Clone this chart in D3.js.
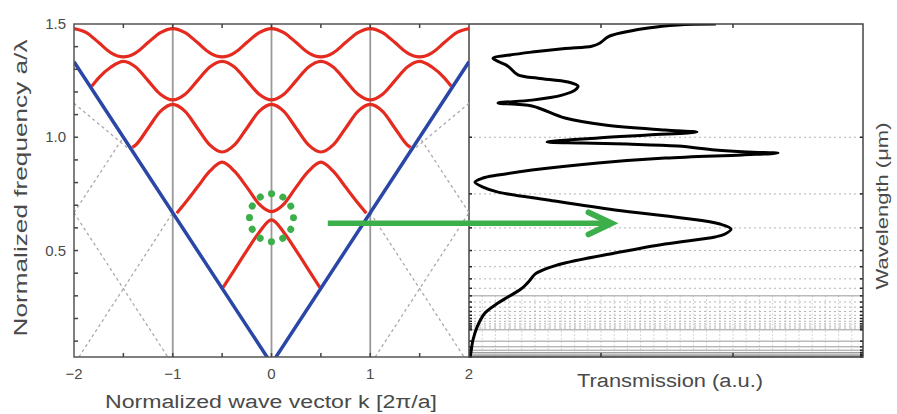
<!DOCTYPE html>
<html>
<head>
<meta charset="utf-8">
<script src="https://cdn.jsdelivr.net/npm/d3@7"></script>
<style>
  body { margin: 0; background: #fff; }
  text { font-family: "Liberation Sans", Arial, sans-serif; fill: #4a4a4a; }
</style>
</head>
<body>
<svg id="chart" width="897" height="414"></svg>
<script>
// band diagram: [k, a/lambda]
const band1 = [[-2,1.48],[-1.875,1.462],[-1.75,1.418],[-1.625,1.373],[-1.5,1.355],[-1.375,1.373],[-1.25,1.418],[-1.125,1.462],
  [-1,1.48],[-0.875,1.462],[-0.75,1.418],[-0.625,1.373],[-0.5,1.355],[-0.375,1.373],[-0.25,1.418],[-0.125,1.462],
  [0,1.48],[0.125,1.462],[0.25,1.418],[0.375,1.373],[0.5,1.355],[0.625,1.373],[0.75,1.418],[0.875,1.462],
  [1,1.48],[1.125,1.462],[1.25,1.418],[1.375,1.373],[1.5,1.355],[1.625,1.373],[1.75,1.418],[1.875,1.462],[2,1.48]];
const band2 = [[-1.82,1.225],[-1.75,1.262],[-1.625,1.31],[-1.5,1.335],[-1.375,1.31],[-1.25,1.25],[-1.125,1.19],
  [-1,1.165],[-0.875,1.19],[-0.75,1.25],[-0.625,1.31],[-0.5,1.335],[-0.375,1.31],[-0.25,1.25],[-0.125,1.19],
  [0,1.165],[0.125,1.19],[0.25,1.25],[0.375,1.31],[0.5,1.335],[0.625,1.31],[0.75,1.25],[0.875,1.19],
  [1,1.165],[1.125,1.19],[1.25,1.25],[1.375,1.31],[1.5,1.335],[1.625,1.31],[1.75,1.262],[1.82,1.225]];
const band3 = [[-1.41,0.955],[-1.375,0.966],[-1.25,1.04],[-1.125,1.114],[-1,1.145],[-0.875,1.114],[-0.75,1.04],[-0.625,0.966],
  [-0.5,0.935],[-0.375,0.966],[-0.25,1.04],[-0.125,1.114],[0,1.145],[0.125,1.114],[0.25,1.04],[0.375,0.966],
  [0.5,0.935],[0.625,0.966],[0.75,1.04],[0.875,1.114],[1,1.145],[1.125,1.114],[1.25,1.04],[1.375,0.966],[1.41,0.955]];
const band4 = [[-0.96,0.665],[-0.875,0.71],[-0.75,0.78],[-0.625,0.85],[-0.5,0.89],[-0.375,0.85],[-0.25,0.78],[-0.125,0.705],
  [0,0.672],[0.125,0.705],[0.25,0.78],[0.375,0.85],[0.5,0.89],[0.625,0.85],[0.75,0.78],[0.875,0.71],[0.96,0.665]];
const band5 = [[-0.49,0.337],[-0.375,0.415],[-0.25,0.5],[-0.125,0.58],[0,0.635],[0.125,0.58],[0.25,0.5],[0.375,0.415],[0.49,0.337]];
const lightLine = [[-2,1.333],[0,0],[2,1.333]];
const foldedLines = [
  [[-1.95,0.03],[-1,0.667]], [[-2,0.667],[-1.05,0.03]], [[-2,0.667],[-1.5,1.0]], [[-2,1.15],[-1.45,0.95]],
  [[1.05,0.03],[2,0.667]], [[1,0.667],[1.95,0.03]], [[2,0.667],[1.5,1.0]], [[2,1.15],[1.45,0.95]]
];
const zoneLines = [-1, 0, 1];

// transmission spectrum: [T (a.u.), a/lambda]
const transmission = [[1.87,1.5],[1.583,1.496],[1.356,1.482],[1.06,1.445],[0.99,1.415],[0.93,1.402],[0.727,1.392],[0.477,1.376],[0.31,1.363],
  [0.182,1.349],[0.235,1.331],[0.295,1.314],[0.371,1.275],[0.523,1.261],[0.75,1.244],[0.826,1.226],[0.803,1.208],
  [0.705,1.186],[0.477,1.164],[0.22,1.151],[0.477,1.138],[0.727,1.085],[1.03,1.054],[1.485,1.032],[1.727,1.023],
  [1.356,1.01],[0.977,0.997],[0.591,0.979],[0.856,0.975],[1.197,0.97],[1.583,0.961],[1.864,0.944],[2.106,0.935],
  [2.341,0.93],[2.068,0.922],[1.485,0.908],[0.977,0.886],[0.477,0.855],[0.22,0.833],[0.106,0.82],[0.045,0.802],
  [0.106,0.78],[0.22,0.758],[0.598,0.723],[1.106,0.679],[1.614,0.644],[1.902,0.617],[1.985,0.595],[1.94,0.573],
  [1.864,0.56],[1.485,0.529],[1.106,0.489],[0.727,0.445],[0.576,0.418],[0.5,0.396],[0.47,0.375],[0.44,0.355],
  [0.394,0.33],[0.295,0.295],[0.22,0.268],[0.121,0.224],[0.061,0.162],[0.03,0.105],[0.015,0.052],[0.008,0.03]];

// wavelength grid (um), lattice a = 0.3 um
const latticeA = 0.3;
const wlMinor = [0.3,0.4,0.5,0.6,0.7,0.8,0.9,1.1,1.2,1.3,1.4,1.5,1.6,1.7,1.8,1.9];
const wlMajor = [1,2,3,4,5,6,7,8,9,10];

const svg = d3.select("#chart");
svg.append("rect").attr("width",897).attr("height",414).attr("fill","#fff");

const x = d3.scaleLinear().domain([-2,2]).range([74,469]);
const y = d3.scaleLinear().domain([0.03,1.5]).range([357,24]);
const xT = d3.scaleLinear().domain([0,2.985]).range([469,863]);

const defs = svg.append("defs");
defs.append("clipPath").attr("id","clipL").append("rect")
  .attr("x",x(-2)).attr("y",y(1.5)).attr("width",x(2)-x(-2)).attr("height",y(0.03)-y(1.5));
defs.append("clipPath").attr("id","clipR").append("rect")
  .attr("x",xT(0)).attr("y",y(1.5)).attr("width",xT(2.985)-xT(0)).attr("height",y(0.03)-y(1.5));

// ---- right panel grid
const gR = svg.append("g");
const fLow = latticeA/1.0;
gR.selectAll(".vgrid").data(d3.range(0.1,2.95,0.1)).enter().append("line")
  .attr("x1",d=>xT(d)).attr("x2",d=>xT(d)).attr("y1",y(fLow)).attr("y2",y(0.03))
  .attr("stroke","#c4c4c4").attr("stroke-width",0.9).attr("stroke-dasharray","1.5,2");
gR.selectAll(".hminor").data(wlMinor).enter().append("line")
  .attr("x1",xT(0)).attr("x2",xT(2.985))
  .attr("y1",d=>y(latticeA/d)).attr("y2",d=>y(latticeA/d))
  .attr("stroke","#b5b5b5").attr("stroke-width",1).attr("stroke-dasharray","2,3");
gR.selectAll(".hmajor").data(wlMajor).enter().append("line")
  .attr("x1",xT(0)).attr("x2",xT(2.985))
  .attr("y1",d=>y(latticeA/d)).attr("y2",d=>y(latticeA/d))
  .attr("stroke","#9a9a9a").attr("stroke-width",1);
// ticks on both sides of right panel
const wlAll = wlMinor.concat(wlMajor);
gR.selectAll(".tl").data(wlAll).enter().append("line")
  .attr("x1",xT(0)).attr("x2",xT(0)+3).attr("y1",d=>y(latticeA/d)).attr("y2",d=>y(latticeA/d))
  .attr("stroke","#222").attr("stroke-width",1.5);
gR.selectAll(".tr").data(wlAll).enter().append("line")
  .attr("x1",xT(2.985)).attr("x2",xT(2.985)-3).attr("y1",d=>y(latticeA/d)).attr("y2",d=>y(latticeA/d))
  .attr("stroke","#222").attr("stroke-width",1.5);
gR.selectAll(".tx").data([1,2]).enter().append("g").each(function(d){
  d3.select(this).append("line").attr("x1",xT(d)).attr("x2",xT(d)).attr("y1",y(1.5)).attr("y2",y(1.5)+4).attr("stroke","#333").attr("stroke-width",1.5);
  d3.select(this).append("line").attr("x1",xT(d)).attr("x2",xT(d)).attr("y1",y(0.03)).attr("y2",y(0.03)-4).attr("stroke","#333").attr("stroke-width",1.5);
});

// transmission curve
svg.append("path").datum(transmission)
  .attr("clip-path","url(#clipR)")
  .attr("fill","none").attr("stroke","#000").attr("stroke-width",3).attr("stroke-linejoin","round")
  .attr("d", d3.line().x(d=>xT(d[0])).y(d=>y(d[1])).curve(d3.curveCatmullRom.alpha(0.5)));

// right panel frame
svg.append("rect").attr("x",xT(0)).attr("y",y(1.5)).attr("width",xT(2.985)-xT(0)).attr("height",y(0.03)-y(1.5))
  .attr("fill","none").attr("stroke","#444").attr("stroke-width",1.5);

// ---- left panel
const gL = svg.append("g").attr("clip-path","url(#clipL)");
gL.selectAll(".zone").data(zoneLines).enter().append("line")
  .attr("x1",d=>x(d)).attr("x2",d=>x(d)).attr("y1",y(1.5)).attr("y2",y(0.03))
  .attr("stroke","#999").attr("stroke-width",1.8);
gL.selectAll(".fold").data(foldedLines).enter().append("line")
  .attr("x1",d=>x(d[0][0])).attr("y1",d=>y(d[0][1])).attr("x2",d=>x(d[1][0])).attr("y2",d=>y(d[1][1]))
  .attr("stroke","#aaa").attr("stroke-width",1.3).attr("stroke-dasharray","3,3");
const bandLine = d3.line().x(d=>x(d[0])).y(d=>y(d[1])).curve(d3.curveMonotoneX);
gL.selectAll(".band").data([band1,band2,band3,band4,band5]).enter().append("path")
  .attr("d",bandLine).attr("fill","none").attr("stroke","#e52a1f").attr("stroke-width",3.2);
gL.append("path").datum(lightLine)
  .attr("d", d3.line().x(d=>x(d[0])).y(d=>y(d[1])))
  .attr("fill","none").attr("stroke","#2b47a6").attr("stroke-width",3.5);

// left axes frame
svg.append("path")
  .attr("d",`M${x(2)},${y(1.5)}H${x(-2)}V${y(0.03)}H${x(2)}`)
  .attr("fill","none").attr("stroke","#555").attr("stroke-width",1.5);
const kTicks = d3.range(-1.5,2,0.5);
svg.selectAll(".kt").data(kTicks).enter().append("g").each(function(d){
  d3.select(this).append("line").attr("x1",x(d)).attr("x2",x(d)).attr("y1",y(1.5)).attr("y2",y(1.5)+4).attr("stroke","#444").attr("stroke-width",1.5);
  d3.select(this).append("line").attr("x1",x(d)).attr("x2",x(d)).attr("y1",y(0.03)).attr("y2",y(0.03)-4).attr("stroke","#444").attr("stroke-width",1.5);
});
svg.selectAll(".ft").data(d3.range(0.1,1.5,0.1)).enter().append("line")
  .attr("x1",x(-2)).attr("x2",x(-2)+4).attr("y1",d=>y(d)).attr("y2",d=>y(d))
  .attr("stroke","#444").attr("stroke-width",1.5);

// tick labels
svg.selectAll(".kl").data([-2,-1,0,1,2]).enter().append("text")
  .attr("x",d=>x(d)).attr("y",379).attr("text-anchor","middle").attr("font-size",15)
  .text(d=>d<0 ? "\u2212"+Math.abs(d) : d);
svg.selectAll(".fl").data([0.5,1.0,1.5]).enter().append("text")
  .attr("x",66).attr("y",d=>y(d)+5).attr("text-anchor","end").attr("font-size",15)
  .text(d=>d.toFixed(1));

// axis titles
svg.append("text").attr("x",271).attr("y",408).attr("text-anchor","middle").attr("font-size",18)
  .attr("textLength",332).attr("lengthAdjust","spacingAndGlyphs")
  .text("Normalized wave vector k [2\u03c0/a]");
svg.append("text").attr("transform","translate(27,188) rotate(-90)").attr("text-anchor","middle").attr("font-size",18)
  .attr("textLength",297).attr("lengthAdjust","spacingAndGlyphs")
  .text("Normalized frequency a/\u03bb");
svg.append("text").attr("x",670).attr("y",387).attr("text-anchor","middle").attr("font-size",18)
  .attr("textLength",186).attr("lengthAdjust","spacingAndGlyphs")
  .text("Transmission (a.u.)");
svg.append("text").attr("transform","translate(888,206) rotate(-90)").attr("text-anchor","middle").attr("font-size",17)
  .attr("textLength",167).attr("lengthAdjust","spacingAndGlyphs")
  .text("Wavelength (\u03bcm)");

// ---- green highlight: dotted circle and arrow
const green = "#3daf4a";
svg.append("ellipse").attr("cx",x(0)).attr("cy",y(0.645)).attr("rx",22).attr("ry",24)
  .attr("pathLength",12).attr("fill","none").attr("stroke",green).attr("stroke-width",7)
  .attr("stroke-linecap","round").attr("stroke-dasharray","0.01 0.99");
const arrowF = 0.62, arrowStart = 0.57, arrowEnd = 1.08;
const ay = y(arrowF), ax0 = x(arrowStart), ax1 = xT(arrowEnd);
svg.append("line").attr("x1",ax0).attr("x2",ax1-2).attr("y1",ay).attr("y2",ay)
  .attr("stroke",green).attr("stroke-width",5.5);
svg.append("path").attr("d",`M${ax1-23},${ay-11}L${ax1},${ay}L${ax1-23},${ay+11}`)
  .attr("fill","none").attr("stroke",green).attr("stroke-width",6)
  .attr("stroke-linecap","round").attr("stroke-linejoin","miter");
</script>
</body>
</html>
